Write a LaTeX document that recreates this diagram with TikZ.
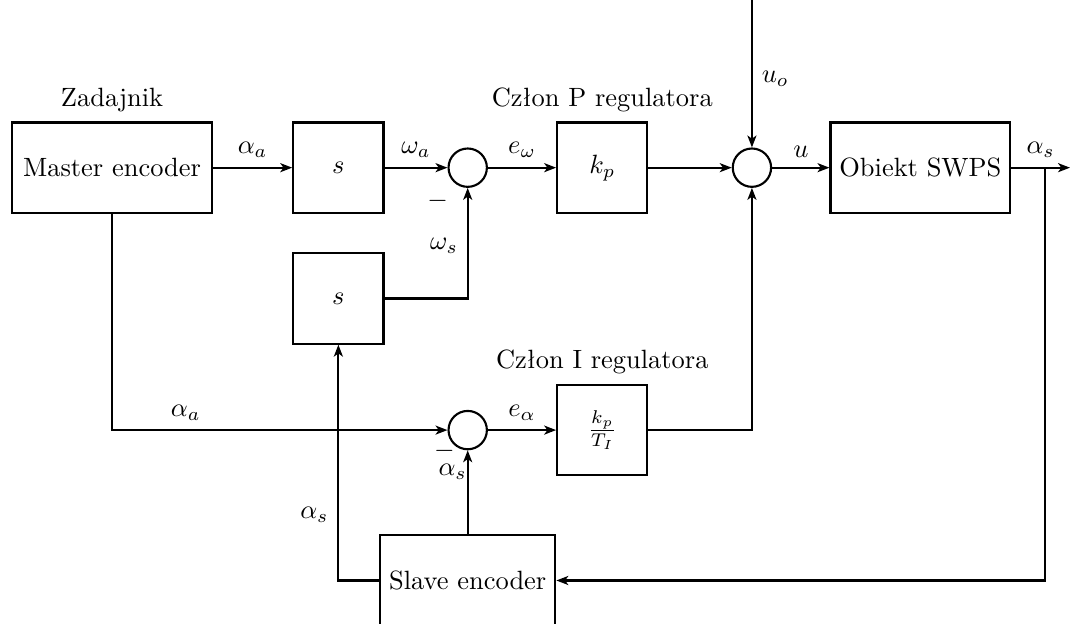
\documentclass[tikz,border=0pt]{standalone}
\usepackage{amsmath,amssymb}
\usetikzlibrary{positioning,arrows.meta}
\begin{document}
\begin{tikzpicture}[>={Stealth[length=4.5pt,width=3.4pt,inset=1.2pt]}, thick,
  blok/.style={draw, minimum width=1.2cm, minimum height=1.2cm},
  suma/.style={draw, circle, minimum size=0.51cm, inner sep=0pt}]
\useasboundingbox (0,0) rectangle (14.23,8.29);
% bloki
\node[blok, minimum width=2.66cm] (master) at (1.49,6.06) {Master encoder};
\node[blok] (s1) at (4.50,6.06) {$s$};
\node[suma] (sum1) at (6.22,6.06) {};
\node[blok] (kp) at (8.01,6.06) {$k_p$};
\node[suma] (sum2) at (10.0,6.06) {};
\node[blok, minimum width=2.39cm] (obj) at (12.24,6.06) {Obiekt SWPS};
\node[blok] (s2) at (4.50,4.32) {$s$};
\node[suma] (sum3) at (6.22,2.57) {};
\node[blok] (kpti) at (8.01,2.57) {$\frac{k_p}{T_I}$};
\node[blok, minimum width=2.33cm] (slave) at (6.22,0.57) {Slave encoder};
\node[above=0pt of master] (zad) {Zadajnik};
\node[above=0pt of kp] (czp) {Człon P regulatora};
\node[above=0pt of kpti] (czi) {Człon I regulatora};
\coordinate (wy) at (14.23,6.06);
\coordinate (rozg) at (13.9,6.06);
\coordinate (uo) at (10.0,8.5);
% tor glowny
\draw[->] (master) -- node[above]{$\alpha_a$} (s1);
\draw[->] (s1) -- node[above]{$\omega_a$} (sum1);
\draw[->] (sum1) -- node[above]{$e_\omega$} (kp);
\draw[->] (kp) -- (sum2);
\draw[->] (sum2) -- node[above]{$u$} (obj);
\draw[->] (obj) -- node[above]{$\alpha_s$} (wy);
\draw[->] (uo) -- node[right, pos=0.58]{$u_o$} (sum2);
% sprzezenia
\draw[->] (s2.east) -| node[left, pos=0.74]{$\omega_s$} (sum1);
\draw[->] (kpti) -| (sum2);
\draw[->] (master.south) |- node[above, pos=0.61]{$\alpha_a$} (sum3);
\draw[->] (sum3) -- node[above]{$e_\alpha$} (kpti);
\draw[->] (slave) -- (sum3);
\draw[->] (slave.west) -| node[left, pos=0.64]{$\alpha_s$} (s2);
\draw[->] (rozg) |- (slave);
% znaki
\path (sum1) ++(-0.4,-0.44) node (m1) {$-$};
\path (sum3) ++(-0.31,-0.27) node (m3) {$-$};
\path (sum3) ++(-0.2,-0.55) node (as3) {$\alpha_s$};
\end{tikzpicture}
\end{document}
